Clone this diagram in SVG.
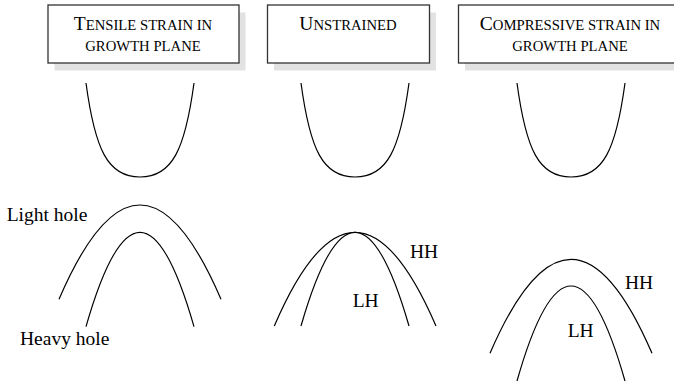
<svg xmlns="http://www.w3.org/2000/svg" width="674" height="382" viewBox="0 0 674 382">
<style>
text{font-family:"Liberation Serif","Times New Roman",serif;fill:#000}
.big{font-size:19.5px}
.sc{font-size:14.7px}
.lbl{font-size:19.5px}
.box{fill:#fff;stroke:#333;stroke-width:1.3}
.shadow{fill:#e2e2e2}
.curve{fill:none;stroke:#000;stroke-width:1.2}
</style>
<rect width="674" height="382" fill="#fff"/>
<g id="box-tensile">
<rect class="shadow" x="54.5" y="12.5" width="191" height="58"/>
<rect class="box" x="48" y="5" width="191" height="58"/>
<text x="143" y="29.5" text-anchor="middle"><tspan class="big">T</tspan><tspan class="sc">ENSILE STRAIN IN</tspan></text>
<text class="sc" x="143" y="51" text-anchor="middle">GROWTH PLANE</text>
</g>
<g id="box-unstrained">
<rect class="shadow" x="274" y="12.5" width="162" height="58"/>
<rect class="box" x="267.5" y="5" width="162" height="58"/>
<text x="348" y="29.5" text-anchor="middle"><tspan class="big">U</tspan><tspan class="sc">NSTRAINED</tspan></text>
</g>
<g id="box-compressive">
<rect class="shadow" x="465" y="12.5" width="230" height="58"/>
<rect class="box" x="458.5" y="5" width="230" height="58"/>
<text x="570" y="29.5" text-anchor="middle"><tspan class="big">C</tspan><tspan class="sc">OMPRESSIVE STRAIN IN</tspan></text>
<text class="sc" x="570" y="51" text-anchor="middle">GROWTH PLANE</text>
</g>
<g id="conduction-bands">
<path class="curve" d="M86,83 C95,150 108,177 140,177 C172,177 185,150 194,83"/>
<path class="curve" d="M301,83 C310,150 323,177 355,177 C387,177 400,150 409,83"/>
<path class="curve" d="M517,83 C526,150 539,177 571,177 C603,177 616,150 625,83"/>
</g>
<g id="valence-tensile">
<path class="curve" d="M59,299.3 Q140,110.7 221,299.3"/>
<path class="curve" d="M86,326.7 Q140,137.9 194,326.7"/>
<text class="lbl" x="6.7" y="220.7">Light hole</text>
<text class="lbl" x="20" y="345">Heavy hole</text>
</g>
<g id="valence-unstrained">
<path class="curve" d="M274.3,326 Q355,138.6 436,326"/>
<path class="curve" d="M301,326 Q355,138.6 409,326"/>
<text class="lbl" x="410" y="258.3">HH</text>
<text class="lbl" x="352.7" y="306.7">LH</text>
</g>
<g id="valence-compressive">
<path class="curve" d="M490,353.3 Q571,165.3 652,353.3"/>
<path class="curve" d="M517,381 Q571,191 625,381"/>
<text class="lbl" x="625" y="289.3">HH</text>
<text class="lbl" x="567.7" y="337.3">LH</text>
</g>
<g id="connectors"></g>
</svg>
